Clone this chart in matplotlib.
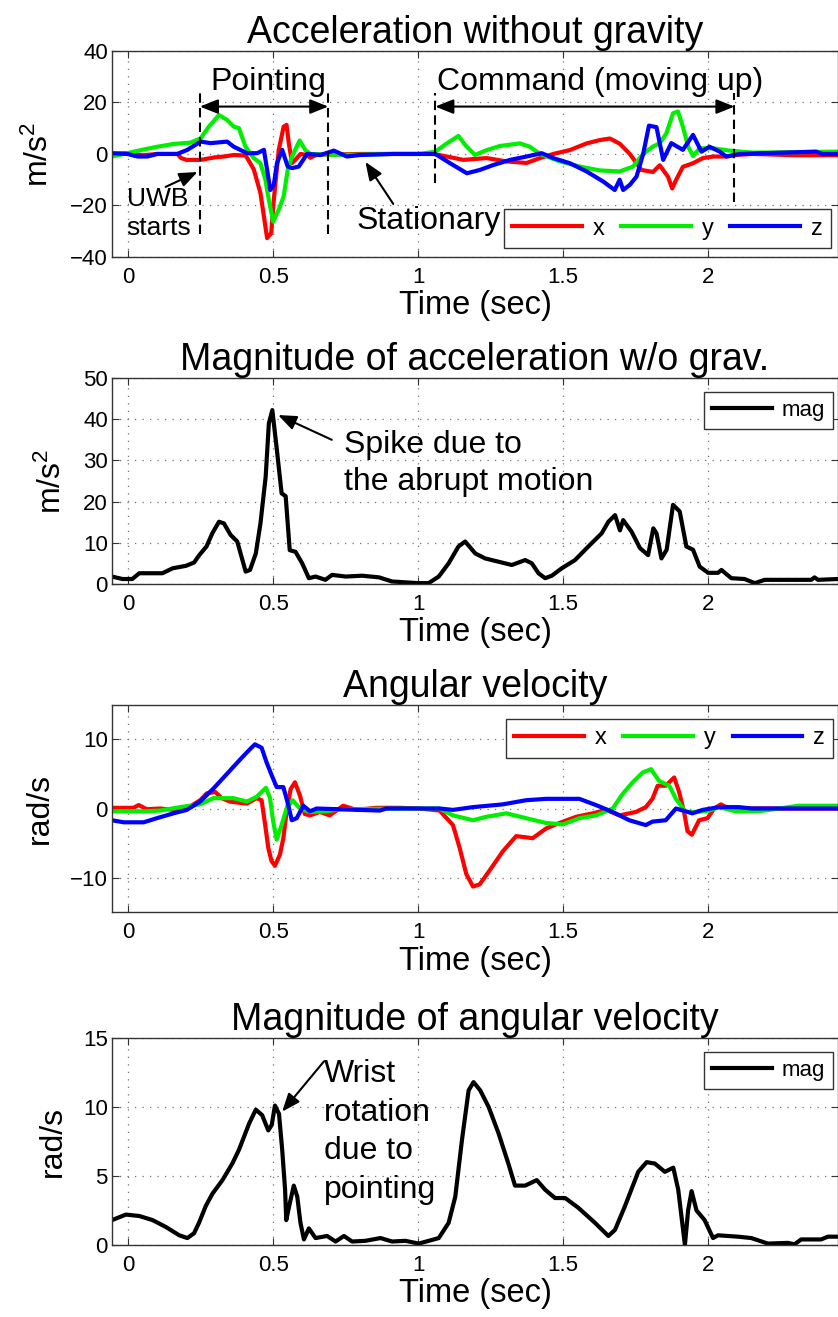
import matplotlib
matplotlib.use('Agg')
import matplotlib.pyplot as plt
import numpy as np

plt.rcParams['font.family'] = ['Liberation Sans', 'DejaVu Sans']
plt.rcParams['mathtext.fontset'] = 'custom'
plt.rcParams['mathtext.rm'] = 'Liberation Sans'
plt.rcParams['mathtext.it'] = 'Liberation Sans'

# (time [s], value)

# acceleration without gravity, m/s^2
acc_x = [(-0.057, 0), (0.0, 0.3), (0.05, -0.5), (0.1, 0), (0.17, 0), (0.181, -1.5), (0.2, -2.3),
         (0.25, -2.3), (0.3, -1.3), (0.33, -1.0), (0.364, -0.4), (0.404, -0.6), (0.41, -1.5),
         (0.433, -6), (0.456, -15.2), (0.468, -24.3), (0.479, -32.7), (0.493, -30.8), (0.502, -17.9),
         (0.519, 1.5), (0.536, 10.6), (0.546, 11.3), (0.554, 4), (0.565, -3.5), (0.577, -2.2),
         (0.594, 0), (0.617, -0.4), (0.628, -1.5), (0.65, -0.3), (0.8, 0), (1.007, 0), (1.053, 0),
         (1.099, -1), (1.156, -2.3), (1.236, -1.6), (1.305, -2.9), (1.374, -3.5), (1.420, -1.6),
         (1.466, 0), (1.523, 1.5), (1.581, 4.1), (1.627, 5.4), (1.661, 6), (1.695, 4), (1.730, 0),
         (1.770, -6.2), (1.810, -7), (1.833, -4.4), (1.862, -8.9), (1.876, -13.4), (1.890, -10),
         (1.913, -5), (1.948, -3.6), (1.982, -1.6), (2.017, -1), (2.063, -1), (2.097, -0.4),
         (2.154, 0), (2.3, -0.5), (2.448, -0.5)]
acc_y = [(-0.057, -1), (-0.014, 0), (0.043, 1.5), (0.1, 2.8), (0.158, 3.9), (0.215, 4.4), (0.25, 6.1),
         (0.278, 10.6), (0.313, 15.1), (0.341, 13.2), (0.364, 10.6), (0.382, 10), (0.404, 2.9),
         (0.433, -1.6), (0.456, -3.6), (0.473, -10), (0.485, -17.9), (0.5, -26.3), (0.519, -21.7),
         (0.536, -16.5), (0.55, -6.2), (0.565, -1), (0.591, 5.2), (0.611, 1.5), (0.628, 0),
         (0.7, -0.3), (0.8, -0.3), (0.9, 0), (1.007, 0), (1.059, 0.9), (1.099, 4.1), (1.139, 7),
         (1.162, 3.5), (1.196, -0.4), (1.236, 1.5), (1.282, 3.1), (1.351, 4.1), (1.385, 2.8),
         (1.420, 0), (1.489, -2.9), (1.558, -4.9), (1.627, -6.4), (1.695, -6.8), (1.741, -4.9),
         (1.776, 0), (1.810, 2.9), (1.833, 4.1), (1.856, 8), (1.879, 15.8), (1.896, 16.5),
         (1.913, 10.6), (1.931, 2.9), (1.948, -0.8), (1.971, 2.2), (2.017, 2.2), (2.074, 1.3),
         (2.154, 0.5), (2.448, 0.9)]
acc_z = [(-0.057, 0.3), (-0.003, 0), (0.032, -1), (0.066, -1), (0.1, 0), (0.169, 0), (0.204, 1.6),
         (0.25, 4.8), (0.284, 4.2), (0.341, 4.8), (0.364, 2.8), (0.41, 0.3), (0.445, 0.3),
         (0.468, 1.6), (0.479, -6.2), (0.49, -14), (0.502, -12), (0.513, -3.6), (0.531, 1.6),
         (0.55, -4.9), (0.565, -5.5), (0.588, -4.9), (0.617, 0), (0.663, -0.4), (0.709, 1.3),
         (0.754, -1), (0.8, -0.4), (0.915, 0), (1.059, 0), (1.110, -3.6), (1.168, -7.5),
         (1.213, -6.2), (1.259, -4.3), (1.317, -2.3), (1.374, -1), (1.426, 0.3), (1.466, -1.6),
         (1.523, -3.6), (1.581, -6.8), (1.638, -10.7), (1.678, -14), (1.695, -10), (1.707, -14),
         (1.730, -12), (1.753, -8.8), (1.776, 0), (1.796, 11), (1.822, 10.4), (1.845, -2.3),
         (1.873, 4.2), (1.913, 1.6), (1.948, 7.4), (1.977, 0.9), (2.005, 2.8), (2.040, 0.9),
         (2.063, -1), (2.109, 0), (2.372, 0.9), (2.395, 0), (2.448, 0)]

# magnitude of acceleration w/o gravity
acc_mag = [(-0.056, 1.8), (-0.02, 1.2), (0.014, 1.2), (0.038, 2.6), (0.118, 2.6), (0.153, 3.8),
           (0.199, 4.4), (0.227, 5.2), (0.245, 7), (0.27, 9.1), (0.29, 12.3), (0.313, 15.1),
           (0.33, 14.7), (0.353, 11.9), (0.376, 10.3), (0.405, 3), (0.42, 3.4), (0.44, 7.4),
           (0.456, 14.7), (0.474, 26), (0.485, 39), (0.497, 42.2), (0.514, 31.7), (0.529, 22),
           (0.543, 21.3), (0.557, 8.2), (0.577, 7.8), (0.6, 5), (0.623, 1.4), (0.646, 1.8),
           (0.68, 1), (0.703, 2.2), (0.75, 1.8), (0.807, 2), (0.865, 1.6), (0.91, 0.6), (1.0, 0.2),
           (1.036, 0.2), (1.071, 1.8), (1.105, 5), (1.139, 9.1), (1.162, 10.3), (1.197, 7.4),
           (1.231, 6.2), (1.300, 5), (1.323, 4.6), (1.369, 5.8), (1.392, 5), (1.415, 2.6),
           (1.438, 1.4), (1.461, 2), (1.495, 3.8), (1.541, 5.8), (1.587, 9.1), (1.633, 12.3),
           (1.656, 15.1), (1.679, 16.7), (1.696, 13), (1.707, 15.5), (1.736, 12.7), (1.765, 8.7),
           (1.793, 7), (1.811, 13.5), (1.822, 12.3), (1.839, 6.2), (1.857, 8.3), (1.879, 19.2),
           (1.902, 17.6), (1.925, 9.1), (1.948, 8.3), (1.971, 4.2), (2.0, 2.7), (2.034, 2.7),
           (2.046, 3.4), (2.080, 1.4), (2.126, 1.2), (2.161, 0.2), (2.195, 1), (2.356, 1),
           (2.367, 1.6), (2.379, 1), (2.448, 1.2)]

# angular velocity, rad/s
gyr_x = [(-0.056, 0.1), (0.018, 0.1), (0.036, 0.5), (0.064, -0.1), (0.11, 0), (0.179, -0.3),
         (0.202, 0), (0.248, 1.2), (0.271, 2.2), (0.30, 2.4), (0.322, 1.5), (0.351, 1),
         (0.409, 0.7), (0.443, 1.5), (0.46, 1.2), (0.472, -2.3), (0.483, -5.7), (0.494, -7.6),
         (0.506, -8.3), (0.523, -6.7), (0.535, -4.3), (0.546, -0.5), (0.560, 2.8), (0.575, 3.8),
         (0.592, 1.9), (0.609, -0.8), (0.627, -1), (0.661, -0.5), (0.695, -1), (0.741, 0.4),
         (0.787, -0.2), (0.856, 0.1), (0.936, 0.1), (1.005, 0), (1.074, -0.3), (1.120, -2.4),
         (1.143, -5.7), (1.166, -9.5), (1.189, -11.3), (1.212, -11), (1.246, -9), (1.292, -6.2),
         (1.338, -4), (1.395, -4.3), (1.441, -2.9), (1.487, -2.1), (1.545, -1.2), (1.602, -0.7),
         (1.648, -0.2), (1.694, -1), (1.751, -0.5), (1.785, 0.2), (1.808, 1.4), (1.826, 3.3),
         (1.854, 3.3), (1.883, 4.5), (1.900, 2.4), (1.917, -0.5), (1.929, -3.3), (1.944, -3.8),
         (1.969, -1.7), (1.998, -1.4), (2.021, 0), (2.044, 0.6), (2.072, 0), (2.448, 0)]
gyr_y = [(-0.056, -0.4), (0.064, -0.4), (0.11, -0.3), (0.179, 0.2), (0.248, 0.6), (0.294, 1.5),
         (0.363, 1.5), (0.409, 1), (0.443, 1.7), (0.475, 3), (0.489, 1.5), (0.5, -1.9),
         (0.512, -4.5), (0.529, -2.4), (0.546, 0), (0.567, 1.2), (0.592, 0), (0.627, -0.5),
         (0.684, -0.4), (0.73, -0.1), (1.005, 0), (1.074, 0), (1.120, -1), (1.189, -1.7),
         (1.235, -1.2), (1.304, -0.7), (1.372, -1.4), (1.441, -2.1), (1.499, -2.3), (1.556, -1.4),
         (1.613, -1), (1.671, 0), (1.705, 2.1), (1.740, 3.8), (1.774, 5.2), (1.803, 5.7),
         (1.831, 4), (1.866, 3.3), (1.889, 1.4), (1.923, -0.5), (1.958, -0.5), (2.004, -0.3),
         (2.038, 0.2), (2.095, -0.4), (2.176, -0.4), (2.313, 0.4), (2.448, 0.4)]
gyr_z = [(-0.056, -1.7), (-0.016, -2), (0.053, -2), (0.099, -1.4), (0.156, -0.7), (0.202, -0.2),
         (0.248, 1), (0.294, 2.9), (0.340, 5), (0.386, 7.1), (0.42, 8.6), (0.437, 9.3),
         (0.46, 8.8), (0.477, 6.7), (0.495, 4.8), (0.512, 3.1), (0.535, 3.1), (0.552, 0.5),
         (0.564, -1.7), (0.581, -1.4), (0.604, 0.4), (0.627, -0.4), (0.65, 0), (0.868, -0.3),
         (0.89, 0), (1.074, 0), (1.120, -0.2), (1.189, 0.2), (1.292, 0.6), (1.372, 1.2),
         (1.441, 1.4), (1.556, 1.4), (1.613, 0.5), (1.671, -0.5), (1.728, -1.7), (1.785, -2.4),
         (1.808, -1.9), (1.854, -1.7), (1.889, 0), (1.946, -0.7), (1.981, -0.2), (2.038, 0.2),
         (2.107, 0.2), (2.15, 0), (2.448, 0)]

# magnitude of angular velocity
gyr_mag = [(-0.056, 1.8), (-0.008, 2.2), (0.038, 2.1), (0.084, 1.8), (0.13, 1.3), (0.176, 0.7),
           (0.204, 0.5), (0.227, 0.85), (0.244, 1.6), (0.267, 2.8), (0.290, 3.7), (0.325, 4.7),
           (0.359, 5.9), (0.382, 6.9), (0.417, 8.8), (0.44, 9.8), (0.462, 9.4), (0.483, 8.3),
           (0.495, 8.7), (0.506, 10.1), (0.52, 9.5), (0.531, 6.9), (0.541, 4), (0.545, 1.8),
           (0.557, 3), (0.571, 4.3), (0.583, 3.5), (0.594, 1.6), (0.606, 0.4), (0.623, 1.2),
           (0.646, 0.5), (0.686, 0.65), (0.715, 0.25), (0.744, 0.65), (0.772, 0.25), (0.818, 0.3),
           (0.87, 0.5), (0.91, 0.25), (0.956, 0.3), (1.002, 0.1), (1.071, 0.5), (1.105, 1.6),
           (1.128, 3.5), (1.151, 7.6), (1.174, 11.2), (1.191, 11.8), (1.214, 11.2), (1.243, 10),
           (1.277, 8.1), (1.311, 5.9), (1.334, 4.3), (1.369, 4.3), (1.409, 4.7), (1.438, 4),
           (1.472, 3.4), (1.507, 3.4), (1.552, 2.7), (1.610, 1.6), (1.656, 0.65), (1.679, 1.1),
           (1.713, 2.8), (1.759, 5.3), (1.788, 6), (1.816, 5.9), (1.851, 5.3), (1.880, 5.6),
           (1.897, 4), (1.92, 0), (1.931, 2.5), (1.943, 3.9), (1.960, 2.5), (1.988, 1.8),
           (2.017, 0.5), (2.034, 0.7), (2.103, 0.6), (2.149, 0.5), (2.206, 0.1), (2.275, 0.15),
           (2.298, 0.05), (2.321, 0.4), (2.390, 0.4), (2.413, 0.6), (2.448, 0.6)]

axis_names = ['x', 'y', 'z']
axis_colors = ['#ff0000', '#00ee00', '#0000ff']
xticks = [0, 0.5, 1, 1.5, 2]
xticklabels = ['0', '0.5', '1', '1.5', '2']


def draw(ax, series, color):
    d = np.array(series)
    ax.plot(d[:, 0], d[:, 1], color=color, lw=3, solid_joinstyle='round')


def style(ax, ylim, yticks, ylabel, title):
    ax.set_xlim(-0.056, 2.448)
    ax.set_ylim(ylim)
    ax.set_xticks(xticks)
    ax.set_xticklabels(xticklabels)
    ax.set_yticks(yticks)
    ax.tick_params(direction='in', top=True, right=True, length=5, width=0.8,
                   labelsize=16, color='0.2')
    ax.tick_params(axis='x', pad=7)
    ax.tick_params(axis='y', pad=3)
    ax.grid(True, linestyle=(0, (1, 5)), color='0.45', linewidth=0.9)
    ax.set_axisbelow(True)
    ax.set_xlabel('Time (sec)', fontsize=23.5, labelpad=2)
    ax.set_ylabel(ylabel, fontsize=23, labelpad=11)
    ax.set_title(title, fontsize=27)
    for s in ax.spines.values():
        s.set_linewidth(1)
        s.set_color('0.2')


def legend(ax, labels, loc, anchor, ncol, size, hlen):
    leg = ax.legend(labels, loc=loc, bbox_to_anchor=anchor, borderaxespad=0, ncol=ncol,
                    fontsize=size, handlelength=hlen, handletextpad=0.45, columnspacing=0.72,
                    borderpad=0.35, fancybox=False, edgecolor='0.2', framealpha=1)
    leg.get_frame().set_linewidth(1)


def arrow(ax, start, end, style='-|>'):
    ax.annotate('', xy=end, xytext=start,
                arrowprops=dict(arrowstyle=style + ',head_length=0.55,head_width=0.22',
                                color='k', lw=1.5, shrinkA=0, shrinkB=0, mutation_scale=20))


fig = plt.figure(figsize=(8.38, 13.17), dpi=100)
L, W = 112 / 838, 1 - 112 / 838
ax1 = fig.add_axes([L, 0.8049, W, 0.1564])
ax2 = fig.add_axes([L, 0.5566, W, 0.1564])
ax3 = fig.add_axes([L, 0.3075, W, 0.1572])
ax4 = fig.add_axes([L, 0.0547, W, 0.1572])

# --- acceleration without gravity
for s, c in zip([acc_x, acc_y, acc_z], axis_colors):
    draw(ax1, s, c)
style(ax1, (-40, 40), [-40, -20, 0, 20, 40], r'm/s$^{2}$', 'Acceleration without gravity')
legend(ax1, axis_names, 'lower right', (0.990, 0.044), 3, 17, 2.95)

for t, y0 in [(0.247, -30.9), (0.69, -30.9), (1.059, -11.3), (2.091, -18.5)]:
    ax1.plot([t, t], [y0, 23.6], color='k', lw=1.5, dashes=(4.5, 2.5))
arrow(ax1, (0.247, 18.4), (0.69, 18.4), '<|-|>')
arrow(ax1, (1.059, 18.4), (2.091, 18.4), '<|-|>')
ax1.text(0.483, 24.9, 'Pointing', fontsize=23, ha='center', va='baseline')
ax1.text(1.626, 24.9, 'Command (moving up)', fontsize=23, ha='center', va='baseline')
ax1.text(-0.005, -23.1, 'UWB\nstarts', fontsize=19, ha='left', va='center', linespacing=1.22)
arrow(ax1, (0.129, -12.8), (0.239, -7.0))
ax1.text(0.787, -29, 'Stationary', fontsize=23, ha='left', va='baseline')
arrow(ax1, (0.914, -19.4), (0.818, -3.1))

# --- magnitude of acceleration
draw(ax2, acc_mag, 'k')
style(ax2, (0, 50), [0, 10, 20, 30, 40, 50], r'm/s$^{2}$', 'Magnitude of acceleration w/o grav.')
legend(ax2, ['mag'], 'upper right', (0.993, 0.932), 1, 16, 2.7)
ax2.text(0.744, 29.2, 'Spike due to\nthe abrupt motion', fontsize=23, ha='left', va='center',
         linespacing=1.29)
arrow(ax2, (0.702, 35), (0.517, 41))

# --- angular velocity
for s, c in zip([gyr_x, gyr_y, gyr_z], axis_colors):
    draw(ax3, s, c)
style(ax3, (-15, 15), [-10, 0, 10], 'rad/s', 'Angular velocity')
legend(ax3, axis_names, 'upper right', (0.993, 0.932), 3, 17, 2.95)

# --- magnitude of angular velocity
draw(ax4, gyr_mag, 'k')
style(ax4, (0, 15), [0, 5, 10, 15], 'rad/s', 'Magnitude of angular velocity')
legend(ax4, ['mag'], 'upper right', (0.993, 0.932), 1, 16, 2.7)
ax4.text(0.675, 8.2, 'Wrist\nrotation\ndue to\npointing', fontsize=23, ha='left', va='center',
         linespacing=1.37)
arrow(ax4, (0.675, 13.3), (0.531, 9.66))

fig.savefig('out.png', dpi=100)
